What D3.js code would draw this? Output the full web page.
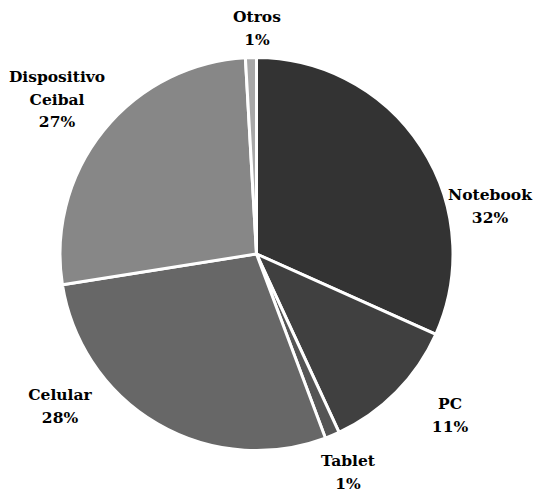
<!DOCTYPE html>
<html><head><meta charset="utf-8">
<script src="https://cdn.jsdelivr.net/npm/d3@7"></script>
<style>body{margin:0;background:#fff}</style>
</head><body>
<script>
const categories = ["Notebook", "PC", "Tablet", "Celular", "Dispositivo Ceibal", "Otros"];
const values = [31.7, 11.4, 1.2, 28.2, 26.6, 0.9];
const colors = ["#333333", "#404040", "#555555", "#676767", "#878787", "#a8a8a8"];
const labelLines = [["Notebook"], ["PC"], ["Tablet"], ["Celular"], ["Dispositivo", "Ceibal"], ["Otros"]];

// label layout (center x, first baseline y) in pixels
const labelLayout = [[490, 200], [450, 409], [348, 466], [60, 400], [57, 82], [257, 22]];

const W = 533, H = 491, cx = 256.5, cy = 254, R = 196.5;
const svg = d3.select("body").append("svg").attr("width", W).attr("height", H);
const g = svg.append("g").attr("transform", `translate(${cx},${cy})`);
const pie = d3.pie().sort(null).value(d => d);
const arc = d3.arc().innerRadius(0).outerRadius(R);
g.selectAll("path").data(pie(values)).join("path")
  .attr("d", arc).attr("fill", (d, i) => colors[i])
  .attr("stroke", "#fff").attr("stroke-width", 3).attr("stroke-linejoin", "miter");

const lab = svg.append("g").attr("font-family", "'DejaVu Serif', serif")
  .attr("font-weight", "bold").attr("font-size", 15.5).attr("fill", "#000").attr("text-anchor", "middle");
categories.forEach((c, i) => {
  const [x, y] = labelLayout[i];
  const t = lab.append("text").attr("x", x).attr("y", y);
  const lines = labelLines[i].concat([Math.round(values[i]) + "%"]);
  lines.forEach((ln, j) => t.append("tspan").attr("x", x).attr("y", y + j * 22.5).text(ln));
});
</script>
</body></html>
